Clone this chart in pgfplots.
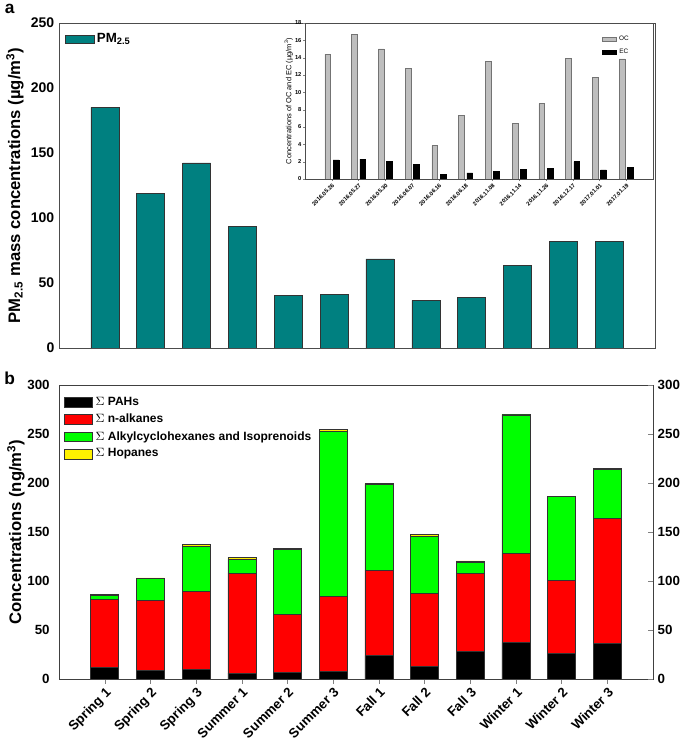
\documentclass[border=0pt]{standalone}
\usepackage{fontspec}
\setmainfont{Liberation Sans}
\usepackage{pgfplots}
\pgfplotsset{compat=1.18}

\definecolor{pmteal}{RGB}{0,128,128}
\definecolor{ocgray}{RGB}{190,190,190}

\begin{document}
\begin{tikzpicture}
\useasboundingbox (0,0) rectangle (513.75pt,555.75pt);

% panel a: PM2.5 mass
\begin{axis}[
  at={(44.25pt,294.75pt)}, anchor=south west,
  scale only axis, width=447pt, height=243.75pt,
  xmin=0, xmax=13, ymin=0, ymax=250,
  xtick=\empty, ytick={0,50,...,250},
  major tick length=0pt,
  axis line style={black!70},
  /pgf/number format/assume math mode=true,
  tick label style={font=\bfseries\fontsize{10.5}{12}\selectfont},
  ylabel={PM\textsubscript{2.5} mass concentrations (µg/m\textsuperscript{3})},
  ylabel style={font=\bfseries\fontsize{12.5}{14}\selectfont,
    at={(axis description cs:-0.074,0.5)}, anchor=center},
  legend style={at={(0.003,0.985)}, anchor=north west, draw=none, fill=none,
    font=\bfseries\fontsize{10}{12}\selectfont},
  legend image code/.code={\draw[#1] (0pt,-3.2pt) rectangle (21.5pt,3.2pt);},
]
\addplot[ybar, bar width=21pt, fill=pmteal, draw=black!80]
  coordinates {(1,185) (2,119) (3,142.3) (4,93.5) (5,40.5) (6,41.3)
               (7,68.5) (8,36.7) (9,38.8) (10,63.8) (11,82) (12,81.8)};
\addlegendentry{PM\textsubscript{2.5}}
\end{axis}

% inset: OC and EC
\begin{axis}[
  at={(228.75pt,421.5pt)}, anchor=south west,
  scale only axis, width=261pt, height=117pt,
  xmin=0, xmax=13, ymin=0, ymax=18,
  ybar=1.9pt, bar width=4.3pt,
  xtick={1,...,12},
  xticklabels={2016.05.26,2016.05.27,2016.05.30,2016.06.07,2016.06.16,2016.06.18,
    2016.11.08,2016.11.14,2016.11.26,2016.12.17,2017.01.01,2017.01.19},
  xticklabel style={rotate=45, anchor=north east, inner sep=1pt},
  ytick={0,2,...,18},
  tick align=outside, major tick length=1.5pt,
  xtick pos=bottom, ytick pos=left,
  axis line style={black!70},
  /pgf/number format/assume math mode=true,
  tick label style={font=\bfseries\fontsize{4.3}{5}\selectfont},
  yticklabel style={inner sep=1pt},
  ylabel={Concentrations of OC and EC (µg/m\textsuperscript{3})},
  ylabel style={font=\fontsize{5.6}{6.5}\selectfont,
    at={(axis description cs:-0.047,0.5)}, anchor=center},
  legend style={at={(0.95,0.95)}, anchor=north east, draw=none, fill=none,
    font=\fontsize{4.8}{5.5}\selectfont, row sep=0.5pt},
  legend image code/.code={\draw[#1] (0pt,-1.6pt) rectangle (10.5pt,1.6pt);},
]
\addplot[fill=ocgray, draw=black!55]
  coordinates {(1,14.4) (2,16.7) (3,15.0) (4,12.8) (5,3.85) (6,7.3)
               (7,13.6) (8,6.4) (9,8.7) (10,13.9) (11,11.75) (12,13.85)};
\addplot[fill=black, draw=black]
  coordinates {(1,2.2) (2,2.3) (3,2.0) (4,1.65) (5,0.5) (6,0.7)
               (7,0.85) (8,1.1) (9,1.2) (10,2.0) (11,1.05) (12,1.3)};
\legend{OC, EC}
\end{axis}

% panel b: organic compounds, stacked
\begin{axis}[
  at={(44.25pt,46.5pt)}, anchor=south west,
  scale only axis, width=445.5pt, height=220.5pt,
  xmin=0, xmax=13, ymin=0, ymax=300,
  ybar stacked, bar width=21pt,
  xtick={1,...,12},
  xticklabels={Spring 1,Spring 2,Spring 3,Summer 1,Summer 2,Summer 3,
    Fall 1,Fall 2,Fall 3,Winter 1,Winter 2,Winter 3},
  xticklabel style={rotate=45, anchor=north east, inner sep=1.5pt},
  ytick={0,50,...,300},
  tick align=outside, major tick length=3.5pt,
  xtick pos=bottom, ytick pos=left,
  ytick style={draw=none},
  axis line style={black!75},
  /pgf/number format/assume math mode=true,
  tick label style={font=\bfseries\fontsize{10}{12}\selectfont},
  ylabel={Concentrations (ng/m\textsuperscript{3})},
  ylabel style={font=\bfseries\fontsize{12.5}{14}\selectfont,
    at={(axis description cs:-0.0724,0.5)}, anchor=center},
  legend style={at={(0.002,0.978)}, anchor=north west, draw=none, fill=none,
    font=\bfseries\fontsize{9}{11}\selectfont, row sep=1pt},
  legend cell align=left,
  legend image code/.code={\draw[#1] (0pt,-3.7pt) rectangle (21pt,3.7pt);},
]
\addplot[fill=black, draw=black!80]
  coordinates {(1,11.6) (2,9) (3,9.5) (4,6) (5,7) (6,8)
               (7,24) (8,13) (9,28.5) (10,37) (11,26) (12,36.5)};
\addplot[fill=red, draw=black!80]
  coordinates {(1,70) (2,71.5) (3,80) (4,102) (5,59) (6,76.5)
               (7,87) (8,74) (9,79.5) (10,91) (11,75) (12,127.5)};
\addplot[fill=green, draw=black!80]
  coordinates {(1,4) (2,22) (3,46) (4,14) (5,66.5) (6,168)
               (7,87.5) (8,58.5) (9,11) (10,141.5) (11,85) (12,50)};
\addplot[fill=yellow, draw=black!80]
  coordinates {(1,0.8) (2,0.7) (3,1.5) (4,2) (5,1) (6,2)
               (7,1) (8,1.7) (9,1.5) (10,0.6) (11,0.3) (12,1)};
\legend{$\Sigma$ PAHs, $\Sigma$ n-alkanes,
  $\Sigma$ Alkylcyclohexanes and Isoprenoids, $\Sigma$ Hopanes}
\end{axis}

% right-hand scale of panel b
\begin{axis}[
  at={(44.25pt,46.5pt)}, anchor=south west,
  scale only axis, width=445.5pt, height=220.5pt,
  xmin=0, xmax=13, ymin=0, ymax=300,
  hide x axis, axis y line*=right,
  ytick={0,50,...,300},
  tick align=inside, major tick length=4pt,
  axis line style={black!75},
  /pgf/number format/assume math mode=true,
  tick label style={font=\bfseries\fontsize{10}{12}\selectfont},
]
\addplot[draw=none] coordinates {(0,0) (13,300)};
\end{axis}

\node[anchor=north west, inner sep=0pt, font=\bfseries\fontsize{13}{15}\selectfont]
  at (3.5pt,553pt) {a};
\node[anchor=north west, inner sep=0pt, font=\bfseries\fontsize{13}{15}\selectfont]
  at (3pt,277pt) {b};
\end{tikzpicture}
\end{document}
